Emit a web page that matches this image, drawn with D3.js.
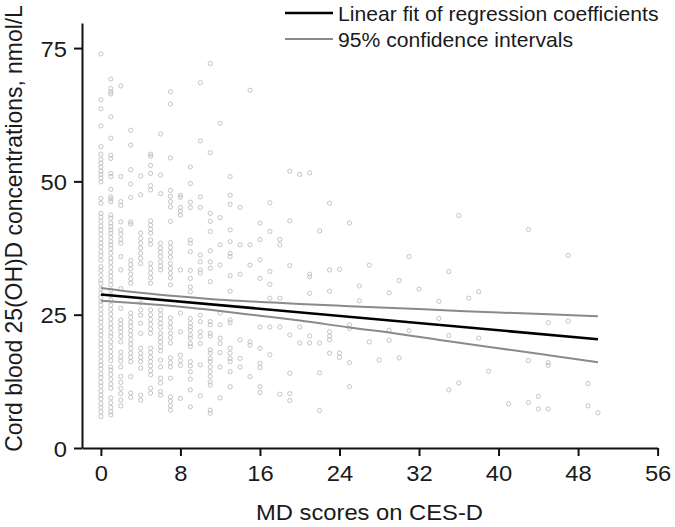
<!DOCTYPE html>
<html><head><meta charset="utf-8">
<script src="https://cdn.jsdelivr.net/npm/d3@7/dist/d3.min.js"></script>
<style>
html,body{margin:0;padding:0;background:#fff;}
svg{display:block;font-family:"Liberation Sans",Arial,Helvetica,sans-serif;}
</style></head>
<body>
<svg id="chart" width="675" height="527"></svg>
<script>
// ---- data ----
const xTicks = [0, 8, 16, 24, 32, 40, 48, 56];
const yTicks = [0, 25, 50, 75];
const xLabel = "MD scores on CES-D";
const yLabel = "Cord blood 25(OH)D concentrations, nmol/L";
const legendLabels = ["Linear fit of regression coefficients", "95% confidence intervals"];

// scatter: [CES-D score, list of cord blood 25(OH)D values]
const scatterColumns = [
  [0, [73.9,65.3,63.6,60.4,56.5,55.1,54.1,53.4,52.7,51.9,51.3,50.6,49.9,46.8,45.9,44.0,43.3,42.5,41.6,40.9,40.1,39.2,38.4,37.7,36.8,36.1,35.2,34.0,33.3,32.4,31.5,30.8,29.9,29.0,28.2,27.5,26.8,26.0,25.1,24.3,23.6,22.7,21.9,21.2,20.3,19.5,18.8,17.9,17.2,16.3,15.5,14.8,13.9,13.2,12.3,11.6,10.7,9.9,9.2,8.3,7.6,6.8,5.9]],
  [1, [69.2,67.4,66.8,66.4,62.1,58.1,54.9,54.3,51.5,50.9,48.5,47.1,46.7,46.2,43.7,43.1,42.2,41.5,40.9,40.3,39.5,38.7,38.1,37.4,36.5,35.6,34.8,33.9,33.0,32.2,31.4,30.6,29.6,28.7,27.8,26.8,26.0,25.1,24.2,23.3,22.5,21.6,20.9,19.9,19.0,18.1,17.2,16.4,15.2,14.6,13.8,12.9,12.0,11.2,9.4,8.5,7.6,6.8,6.2]],
  [2, [67.9,50.9,46.2,45.5,42.4,40.9,40.1,39.1,38.4,35.9,33.4,29.9,26.2,24.0,23.2,22.5,21.8,20.9,19.9,18.0,17.1,16.3,15.2,13.4,12.3,11.2,10.2,9.0,7.9]],
  [3, [59.6,56.8,52.2,49.5,47.0,42.4,42.0,35.2,34.4,33.6,32.6,31.7,30.9,25.3,24.5,23.6,22.8,22.0,21.2,20.3,19.5,18.7,17.8,17.0,16.2,13.4,10.3,9.5]],
  [4, [51.0,47.5,40.3,39.3,38.4,37.5,36.5,35.6,34.6,27.2,25.9,24.9,23.4,21.5,18.7,17.8,17.0,16.2,15.0,9.9,9.0]],
  [5, [55.1,54.7,53.0,51.5,49.2,48.4,42.6,41.8,41.0,40.3,39.0,38.2,34.6,33.7,32.8,31.9,30.9,25.9,25.0,24.1,23.2,22.3,21.5,18.7,17.9,17.0,16.2,15.4,14.5,13.7,11.2,10.3]],
  [6, [58.9,51.2,47.7,38.4,37.5,36.7,35.9,34.9,34.1,33.4,25.9,25.0,24.2,23.4,22.6,21.5,20.7,19.9,19.0,18.2,16.5,15.2,13.1,12.2,10.6,9.9]],
  [7, [66.8,64.5,54.4,48.3,47.2,46.2,45.2,42.5,38.5,37.6,36.7,35.8,34.6,33.7,32.8,31.9,30.6,24.4,23.5,22.6,21.5,20.7,19.7,16.9,16.0,15.2,13.1,9.6,8.8,7.9,7.1]],
  [8, [47.4,47.0,45.1,44.4,43.7,33.4,25.3,21.8,17.4,16.4,15.5,9.3]],
  [9, [52.7,49.6,46.1,45.1,39.0,38.4,36.8,33.3,31.8,30.2,29.3,24.3,23.4,22.7,22.1,21.2,20.6,19.6,19.0,16.2,15.4,14.3,12.9,10.9,7.7]],
  [10, [68.5,57.6,47.1,45.1,36.2,34.9,33.4,32.8,24.9,23.7,21.8,20.9,19.6,15.6,9.8]],
  [11, [72.1,55.4,44.0,42.5,40.6,37.0,34.9,33.7,31.2,23.7,23.1,21.5,21.0,18.4,17.8,16.8,16.2,15.2,14.3,13.4,12.4,11.8,7.1,6.5]],
  [12, [60.9,43.2,38.1,34.3,25.3,23.1,20.6,19.6,17.9,15.2,9.4]],
  [13, [50.9,47.4,45.7,40.9,38.7,36.5,35.9,32.3,29.4,24.0,23.5,18.7,17.8,16.8,16.2,14.3,11.5]],
  [14, [45.1,38.1,32.6,20.3,16.8,15.2]],
  [15, [67.1,38.1,34.3,19.9,19.3,13.4]],
  [16, [42.2,39.1,35.3,31.8,22.7,18.7,15.9,15.1,11.5,10.4]],
  [17, [46.0,40.6,33.1,30.7,28.1,22.7,17.5]],
  [18, [39.1,38.1,28.1,22.7,10.1]],
  [19, [51.9,42.6,34.2,21.2,14.0,10.2,8.9]],
  [20, [51.3,22.7,19.7]],
  [21, [51.6,32.6,32.1,29.0,21.0,19.7]],
  [22, [40.7,19.7,14.1,7.0]],
  [23, [45.9,33.4,29.4,21.8,21.0,20.3,17.8]],
  [24, [33.5,17.8,17.0]],
  [25, [42.2,23.1,22.4,16.0,11.5]],
  [26, [30.4,27.6]],
  [27, [34.3,19.9]],
  [28, [16.5]],
  [29, [29.1,22.1,20.2]],
  [30, [31.4,16.9]],
  [31, [35.9,22.0]],
  [32, [29.8]],
  [34, [27.5,24.3]],
  [35, [33.1,21.1,10.9]],
  [36, [43.6,12.2]],
  [37, [28.1]],
  [38, [29.3,20.6]],
  [39, [14.4]],
  [41, [8.3]],
  [43, [41.0,16.4,8.5]],
  [44, [9.7,7.3]],
  [45, [23.5,16.0,15.5,7.3]],
  [47, [36.1,23.8]],
  [49, [12.1,7.9]],
  [50, [6.6]]
];

// regression line and 95% CI (x, y)
const fitLine = [[0, 28.8], [50, 20.4]];
const ciUpper = [[0,30.0],[4,29.1],[8,28.4],[12,27.8],[16,27.4],[20,27.0],[25,26.6],[30,26.2],[35,25.8],[40,25.4],[45,25.1],[50,24.7]];
const ciLower = [[0,27.6],[4,27.1],[8,26.5],[12,25.7],[16,24.8],[20,23.9],[25,22.6],[30,21.4],[35,20.0],[40,18.7],[45,17.4],[50,16.1]];

// ---- drawing ----
const svg = d3.select("#chart");
const SX = 1.08; // horizontal stretch of text seen in reference

const x = d3.scaleLinear().domain([-1.9, 56]).range([82, 657.6]);
const y = d3.scaleLinear().domain([0, 79.7]).range([448, 23]);

const points = scatterColumns.flatMap(([score, vals]) => vals.map(v => ({score, v})));

svg.append("g")
  .selectAll("circle").data(points).join("circle")
  .attr("cx", d => x(d.score)).attr("cy", d => y(d.v)).attr("r", 2.1)
  .attr("fill", "none").attr("stroke", "#bdbdbd").attr("stroke-width", 0.9);

const line = d3.line().x(d => x(d[0])).y(d => y(d[1])).curve(d3.curveMonotoneX);
svg.append("path").datum(ciUpper).attr("d", line).attr("fill", "none").attr("stroke", "#8a8a8a").attr("stroke-width", 2);
svg.append("path").datum(ciLower).attr("d", line).attr("fill", "none").attr("stroke", "#8a8a8a").attr("stroke-width", 2);
svg.append("path").datum(fitLine).attr("d", line).attr("fill", "none").attr("stroke", "#000").attr("stroke-width", 2.6);

// axes
const xAxis = svg.append("g").attr("transform", "translate(0,448)")
  .call(d3.axisBottom(x).tickValues(xTicks).tickSizeInner(8).tickSizeOuter(0).tickFormat(d3.format("d")));
const yAxis = svg.append("g").attr("transform", "translate(82,0)")
  .call(d3.axisLeft(y).tickValues(yTicks).tickSizeInner(8).tickSizeOuter(0).tickFormat(d3.format("d")));
[xAxis, yAxis].forEach(g => {
  g.selectAll("path.domain").attr("stroke", "#111").attr("stroke-width", 2);
  g.selectAll(".tick line").attr("stroke", "#111").attr("stroke-width", 2);
  g.selectAll(".tick text").attr("fill", "#1a1a1a").attr("font-size", 22)
    .attr("font-family", "'Liberation Sans', Arial, sans-serif");
});
xAxis.selectAll(".tick text").attr("y", 0).attr("dy", 0)
  .attr("transform", `translate(0,33) scale(${SX},1)`);
yAxis.selectAll(".tick text").attr("x", 0).attr("dy", 0)
  .attr("transform", `translate(-15,8) scale(${SX},1)`);

// axis titles
svg.append("text").text(xLabel)
  .attr("transform", `translate(369.5,520) scale(${SX},1)`)
  .attr("text-anchor", "middle").attr("font-size", 22).attr("fill", "#1a1a1a");
svg.append("text").text(yLabel)
  .attr("transform", `translate(22,228.5) scale(${SX},1) rotate(-90)`)
  .attr("text-anchor", "middle").attr("font-size", 22.9).attr("fill", "#1a1a1a");

// legend
const legend = svg.append("g");
const legendItems = [
  {label: legendLabels[0], color: "#000", w: 2.6, y: 13},
  {label: legendLabels[1], color: "#8a8a8a", w: 2, y: 39}
];
legendItems.forEach(it => {
  legend.append("line").attr("x1", 285).attr("x2", 333).attr("y1", it.y).attr("y2", it.y)
    .attr("stroke", it.color).attr("stroke-width", it.w);
  legend.append("text").text(it.label)
    .attr("transform", `translate(338,${it.y + 7.5}) scale(${SX},1)`)
    .attr("font-size", 19.6).attr("fill", "#1a1a1a");
});
</script>
</body></html>
